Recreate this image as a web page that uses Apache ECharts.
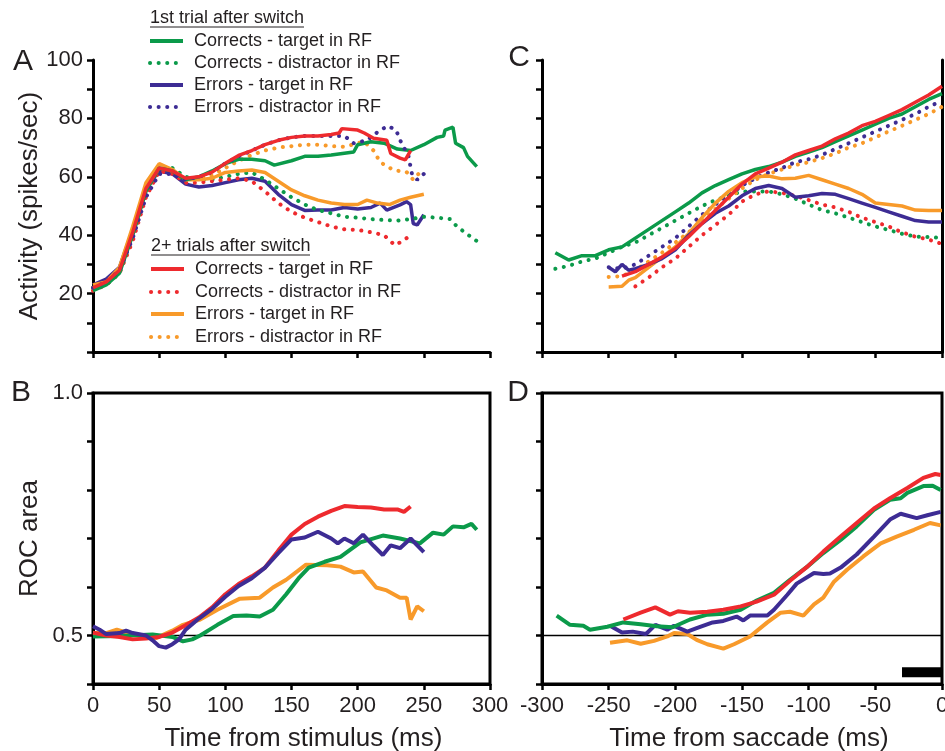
<!DOCTYPE html>
<html>
<head>
    <meta charset="utf-8">
    <title>Switch trials - activity and ROC</title>
    <script src="https://cdn.jsdelivr.net/npm/echarts@6/dist/echarts.min.js"></script>
    <style>
        html, body {
            margin: 0;
            padding: 0;
            background: #ffffff;
        }

        #main {
            width: 945px;
            height: 751px;
        }
    </style>
</head>
<body>
<div id="main"></div>
<script>
    // axis ranges / ticks
    var stimTicks = [0, 300, 50];
    var saccTicks = [-300, 0, 50];
    var rateTicks = [0, 100, 10];
    var rocTicks = [0.4, 1.0, 0.1];

    // panel A: activity aligned on stimulus ([ms, spikes/sec])
    var aCorrTarget1 = [[0, 21], [10, 23], [20, 27], [30, 40], [40, 55], [50, 63], [60, 62], [70, 59], [80, 60], [90, 62], [100, 64.5], [110, 66], [120, 66], [130, 65.5], [137, 64], [150, 65.5], [160, 67], [170, 67], [180, 67.5], [197, 68.5], [200, 71], [210, 72], [220, 71.5], [230, 69.5], [240, 69], [250, 71], [260, 73.5], [265, 74], [266, 76], [272, 77], [274, 71.5], [280, 70], [283, 67], [290, 63.5]];
    var aCorrDist1 = [[0, 22], [10, 23], [20, 27], [30, 40], [40, 54], [50, 62], [60, 63], [70, 60], [80, 59], [90, 59], [100, 60], [110, 61], [120, 61.5], [130, 59], [140, 56], [150, 53], [160, 50.5], [170, 48.6], [180, 47.5], [190, 46.3], [200, 46], [210, 45.5], [220, 45.2], [230, 45], [240, 45.5], [250, 46.3], [260, 46], [270, 45.5], [275, 43], [282, 40.6], [290, 38]];
    var aErrTarget1 = [[0, 23], [10, 25], [20, 29], [30, 42], [40, 56], [50, 62], [60, 61], [70, 57.5], [80, 56.5], [90, 57], [100, 58], [110, 59], [120, 59.5], [130, 58.5], [140, 54], [150, 50.5], [160, 48.5], [170, 48.6], [180, 48.6], [190, 49.5], [200, 49], [210, 49.5], [217, 51], [222, 48.6], [232, 50.4], [237, 51.5], [240, 50.5], [242, 44], [245, 43.5], [250, 47]];
    var aErrDist1 = [[0, 22], [10, 24], [20, 28], [30, 39], [40, 53], [50, 61], [60, 61], [70, 59], [80, 60], [90, 61.6], [100, 64.6], [110, 67], [120, 69], [130, 71], [140, 72.5], [150, 73.5], [160, 74], [170, 74], [180, 74], [190, 74], [197, 71.5], [207, 72.5], [217, 76], [223, 77.4], [229, 76], [234, 70.5], [238, 68], [241, 61], [245, 59], [250, 61]];
    var aCorrTarget2 = [[0, 22], [10, 24], [20, 28], [30, 41], [40, 56], [50, 63], [60, 62], [70, 59.5], [80, 60], [90, 61.6], [100, 64.6], [110, 67.3], [120, 69], [130, 71], [140, 72.5], [150, 73.5], [160, 74], [170, 74], [180, 74.5], [186, 75], [188, 76.5], [200, 76], [205, 75], [212, 73.2], [222, 72.5], [225, 68], [232, 66.4], [236, 65.8], [240, 69]];
    var aCorrDist2 = [[0, 21], [10, 23], [20, 27], [30, 38], [40, 53], [50, 62], [60, 61], [70, 58], [80, 58], [90, 58.5], [100, 59], [110, 59.5], [120, 58.5], [130, 55], [140, 51], [150, 48], [160, 46], [170, 44.5], [180, 43], [190, 42], [200, 41.8], [210, 41], [220, 40], [228, 36.6], [234, 38], [240, 40]];
    var aErrTarget2 = [[0, 23], [10, 24], [20, 29], [30, 43], [40, 58], [50, 64.5], [60, 62.5], [70, 59], [80, 59], [90, 59.5], [100, 61.5], [110, 62], [120, 62.3], [130, 61.5], [140, 58.5], [150, 55.5], [160, 53.5], [170, 52], [180, 51], [190, 50.5], [200, 50.5], [207, 52], [215, 51], [224, 50.5], [232, 52], [240, 53], [250, 54]];
    var aErrDist2 = [[0, 22], [10, 24], [20, 28], [30, 40], [40, 55], [50, 63], [60, 62], [70, 59], [80, 59.5], [90, 60.5], [100, 63], [110, 65.5], [120, 67.5], [130, 69], [140, 70], [150, 70.5], [160, 71], [170, 71], [180, 70.5], [190, 70.3], [200, 71.5], [205, 72], [212, 69], [217, 65], [227, 62.3], [237, 61.6], [242, 59], [250, 63]];

    // panel C: activity aligned on saccade
    var cCorrTarget1 = [[-290, 34], [-280, 31.5], [-270, 33], [-260, 33], [-250, 35], [-240, 36], [-230, 39], [-220, 42], [-210, 45], [-200, 48], [-190, 51], [-180, 54.5], [-170, 57], [-160, 59], [-150, 61], [-140, 62.5], [-130, 63.5], [-120, 65], [-110, 67], [-100, 68.5], [-90, 70], [-80, 72], [-70, 74], [-60, 76], [-50, 78], [-40, 80], [-30, 81.5], [-20, 84], [-10, 86.5], [0, 88.5]];
    var cCorrDist1 = [[-290, 28.5], [-280, 29.5], [-270, 31], [-260, 32], [-250, 34], [-240, 36], [-230, 37.5], [-220, 40], [-210, 42.5], [-200, 45], [-190, 47.5], [-180, 50], [-170, 52], [-160, 53.5], [-150, 55], [-140, 55], [-130, 55], [-120, 54], [-110, 52.5], [-100, 50.5], [-90, 48.6], [-80, 47.5], [-70, 46], [-60, 44.5], [-50, 43], [-40, 41.8], [-30, 40.5], [-20, 39.5], [-10, 39.4], [0, 39]];
    var cErrTarget1 = [[-250, 29], [-245, 27.5], [-240, 30], [-235, 28], [-230, 28.5], [-220, 30], [-210, 32], [-200, 35], [-190, 40], [-180, 44], [-170, 47.5], [-160, 50], [-150, 53.5], [-140, 56], [-130, 57], [-120, 56], [-110, 53], [-100, 53.5], [-90, 54.3], [-80, 54], [-70, 52.5], [-60, 51], [-50, 49.5], [-40, 48], [-30, 46.5], [-20, 45], [-10, 44.5], [0, 44.5]];
    var cErrDist1 = [[-250, 29], [-240, 28.5], [-230, 30], [-220, 33], [-210, 36], [-200, 39], [-190, 43], [-180, 47], [-170, 50.5], [-160, 53.5], [-150, 57], [-140, 59.5], [-130, 61.5], [-120, 63], [-110, 65], [-100, 66], [-90, 67.5], [-80, 69.5], [-70, 71.5], [-60, 73.5], [-50, 75.5], [-40, 77.5], [-30, 79.5], [-20, 81.5], [-10, 84], [0, 86]];
    var cCorrTarget2 = [[-240, 26], [-230, 27.5], [-220, 30], [-210, 32.5], [-200, 35.5], [-190, 39.5], [-180, 44], [-170, 48.5], [-160, 53], [-150, 57.5], [-140, 61], [-130, 63], [-120, 65], [-110, 67.5], [-100, 69], [-90, 70.5], [-80, 73], [-70, 75], [-60, 77.5], [-50, 79], [-40, 81], [-30, 83], [-20, 85.5], [-10, 88], [0, 91]];
    var cCorrDist2 = [[-230, 22.5], [-220, 25.5], [-210, 29], [-200, 32], [-190, 36], [-180, 40], [-170, 43.5], [-160, 47], [-150, 51.5], [-140, 54], [-130, 55], [-120, 54.5], [-110, 53.5], [-100, 52], [-90, 50.5], [-80, 49.5], [-70, 48], [-60, 46], [-50, 44.5], [-40, 43], [-30, 41], [-20, 39.5], [-10, 38.5], [0, 37]];
    var cErrTarget2 = [[-250, 22.3], [-240, 22.5], [-235, 24.6], [-230, 25.5], [-220, 29], [-210, 32.5], [-200, 36], [-190, 40.5], [-180, 46], [-170, 51], [-160, 55], [-150, 58], [-140, 60], [-130, 60.3], [-120, 59.3], [-110, 59.5], [-100, 60.5], [-90, 59], [-80, 57.5], [-70, 56], [-60, 54], [-50, 51], [-40, 50.5], [-30, 50], [-20, 48.6], [-10, 48.5], [0, 48.5]];
    var cErrDist2 = [[-250, 25.7], [-240, 26], [-230, 28], [-220, 31], [-210, 34], [-200, 37.5], [-190, 41], [-180, 45], [-170, 49], [-160, 52.5], [-150, 56], [-140, 59], [-130, 61], [-120, 62.5], [-110, 64], [-100, 65], [-90, 66.4], [-80, 68], [-70, 70], [-60, 71.5], [-50, 73.5], [-40, 75.5], [-30, 77.5], [-20, 79.5], [-10, 81.5], [0, 84]];

    // panel B: ROC area aligned on stimulus
    var bCorr1 = [[0, 0.498], [20, 0.499], [45, 0.502], [60, 0.497], [68, 0.488], [75, 0.492], [81, 0.5], [94, 0.522], [106, 0.54], [116, 0.541], [126, 0.539], [136, 0.553], [146, 0.585], [156, 0.62], [163, 0.64], [175, 0.652], [187, 0.662], [202, 0.692], [219, 0.706], [232, 0.7], [247, 0.69], [257, 0.712], [265, 0.708], [272, 0.725], [280, 0.723], [286, 0.73], [290, 0.718]];
    var bErr1 = [[0, 0.519], [5, 0.512], [10, 0.503], [20, 0.505], [25, 0.51], [30, 0.505], [40, 0.5], [45, 0.49], [50, 0.478], [55, 0.475], [60, 0.482], [65, 0.492], [70, 0.512], [80, 0.535], [90, 0.555], [100, 0.58], [110, 0.602], [120, 0.618], [130, 0.64], [140, 0.67], [150, 0.698], [160, 0.702], [170, 0.714], [180, 0.7], [185, 0.69], [190, 0.7], [197, 0.69], [204, 0.708], [212, 0.685], [219, 0.666], [225, 0.686], [232, 0.68], [240, 0.7], [250, 0.672]];
    var bCorr2 = [[0, 0.506], [10, 0.5], [20, 0.497], [30, 0.492], [40, 0.494], [50, 0.497], [60, 0.506], [70, 0.521], [80, 0.537], [90, 0.558], [100, 0.585], [110, 0.606], [120, 0.622], [130, 0.64], [140, 0.675], [150, 0.708], [160, 0.73], [170, 0.745], [180, 0.757], [190, 0.767], [200, 0.765], [210, 0.764], [220, 0.76], [230, 0.76], [235, 0.755], [240, 0.766]];
    var bErr2 = [[0, 0.505], [10, 0.505], [18, 0.512], [30, 0.502], [48, 0.495], [60, 0.51], [68, 0.522], [81, 0.533], [94, 0.553], [111, 0.576], [126, 0.578], [136, 0.599], [146, 0.615], [161, 0.646], [177, 0.645], [187, 0.642], [197, 0.63], [204, 0.632], [214, 0.599], [222, 0.593], [232, 0.578], [237, 0.578], [240, 0.533], [245, 0.56], [250, 0.55]];

    // panel D: ROC area aligned on saccade
    var dCorr1 = [[-289, 0.541], [-279, 0.522], [-269, 0.52], [-264, 0.512], [-251, 0.518], [-239, 0.527], [-226, 0.523], [-214, 0.519], [-202, 0.517], [-189, 0.533], [-176, 0.543], [-164, 0.545], [-151, 0.553], [-139, 0.572], [-126, 0.588], [-114, 0.615], [-101, 0.642], [-89, 0.67], [-76, 0.697], [-64, 0.725], [-51, 0.759], [-39, 0.78], [-31, 0.783], [-26, 0.794], [-14, 0.808], [-7, 0.809], [-1, 0.8]];
    var dErr1 = [[-249, 0.52], [-240, 0.506], [-232, 0.508], [-222, 0.503], [-215, 0.522], [-206, 0.512], [-201, 0.52], [-191, 0.508], [-184, 0.515], [-172, 0.527], [-164, 0.53], [-154, 0.539], [-149, 0.531], [-144, 0.541], [-131, 0.541], [-126, 0.553], [-116, 0.584], [-109, 0.607], [-96, 0.629], [-89, 0.627], [-84, 0.628], [-76, 0.64], [-64, 0.667], [-51, 0.704], [-39, 0.739], [-31, 0.751], [-19, 0.742], [-11, 0.748], [-1, 0.755]];
    var dCorr2 = [[-239, 0.533], [-226, 0.547], [-215, 0.558], [-204, 0.543], [-198, 0.55], [-189, 0.547], [-176, 0.549], [-164, 0.553], [-151, 0.56], [-139, 0.57], [-126, 0.584], [-114, 0.613], [-101, 0.642], [-89, 0.673], [-76, 0.704], [-64, 0.732], [-51, 0.762], [-39, 0.783], [-26, 0.804], [-14, 0.825], [-5, 0.833], [-1, 0.831]];
    var dErr2 = [[-249, 0.485], [-236, 0.49], [-226, 0.483], [-216, 0.489], [-206, 0.498], [-201, 0.505], [-191, 0.503], [-184, 0.491], [-176, 0.482], [-164, 0.473], [-156, 0.482], [-144, 0.498], [-131, 0.527], [-121, 0.547], [-114, 0.549], [-104, 0.541], [-96, 0.564], [-89, 0.578], [-81, 0.611], [-71, 0.636], [-59, 0.663], [-46, 0.69], [-34, 0.704], [-21, 0.718], [-9, 0.732], [-1, 0.727]];

    var chance = 0.5;
    var barD = [[-30, 0.424], [0, 0.424]];

    var legendTitles = ['1st trial after switch', '2+ trials after switch'];
    var legendNames = ['Corrects - target in RF', 'Corrects - distractor in RF', 'Errors - target in RF', 'Errors - distractor in RF'];

    var GREEN = '#0b9a4a', BLUE = '#3d2c94', RED = '#ee2a2e', ORANGE = '#f89a2a';
    var INK = '#231f20';
    var FONT = '"Liberation Sans", Arial, sans-serif';
    var DOTS = [0.1, 8.5];

    var chart = echarts.init(document.getElementById('main'));

    function line(data, color, dotted, xi, yi, w) {
        return {
            type: 'line',
            data: data,
            xAxisIndex: xi,
            yAxisIndex: yi,
            showSymbol: false,
            silent: true,
            animation: false,
            lineStyle: {
                color: color,
                width: dotted ? 4 : (w || 3.5),
                type: dotted ? DOTS : 'solid',
                cap: dotted ? 'round' : 'butt'
            },
            z: 3
        };
    }

    function xAx(grid, r, labels, name, pad) {
        return {
            type: 'value', gridIndex: grid, min: r[0], max: r[1], interval: r[2],
            splitLine: {show: false},
            axisLine: {onZero: false, lineStyle: {color: '#000', width: 3}},
            axisTick: {length: 6, lineStyle: {color: '#000', width: 2.5}},
            axisLabel: {show: labels, color: INK, fontSize: 22, fontFamily: FONT, margin: 11},
            name: name || '', nameLocation: 'middle', nameGap: 42,
            nameTextStyle: {color: INK, fontSize: 26, fontFamily: FONT, padding: [0, 0, 0, pad || 0]}
        };
    }

    function yAx(grid, r, fmt, name) {
        return {
            type: 'value', gridIndex: grid, min: r[0], max: r[1], interval: r[2],
            splitLine: {show: false},
            axisLine: {onZero: false, lineStyle: {color: '#000', width: 3}},
            axisTick: {length: 6, lineStyle: {color: '#000', width: 2.5}},
            axisLabel: {show: !!fmt, formatter: fmt, color: INK, fontSize: 22, fontFamily: FONT, margin: 10},
            name: name || '', nameLocation: 'middle', nameGap: 50,
            nameTextStyle: {color: INK, fontSize: 26, fontFamily: FONT}
        };
    }

    var rateFmt = function (v) {
        return (v > 0 && v % 20 === 0) ? String(v) : '';
    };
    var rocFmt = function (v) {
        if (Math.abs(v - 1) < 1e-6) return '1.0';
        if (Math.abs(v - 0.5) < 1e-6) return '0.5';
        return '';
    };

    // legend drawn by hand (two grouped blocks)
    var graphics = [];

    function legendBlock(title, x, yTitle, ulen, ys, colors) {
        graphics.push({
            type: 'text', x: x, y: yTitle,
            style: {text: title, font: '18px ' + FONT, fill: INK, verticalAlign: 'middle'}
        });
        graphics.push({
            type: 'line', shape: {x1: x, y1: yTitle + 9, x2: x + ulen, y2: yTitle + 9},
            style: {stroke: INK, lineWidth: 1}
        });
        for (var i = 0; i < 4; i++) {
            var dotted = i % 2 === 1;
            graphics.push({
                type: 'line', shape: {x1: x, y1: ys[i], x2: x + 33, y2: ys[i]},
                style: {stroke: colors[i], lineWidth: 4, lineDash: dotted ? DOTS : null, lineCap: dotted ? 'round' : 'butt'}
            });
            graphics.push({
                type: 'text', x: x + 44, y: ys[i],
                style: {text: legendNames[i], font: '18px ' + FONT, fill: INK, verticalAlign: 'middle'}
            });
        }
    }

    legendBlock(legendTitles[0], 150, 18, 154, [41, 63, 85, 107], [GREEN, GREEN, BLUE, BLUE]);
    legendBlock(legendTitles[1], 151, 246, 159, [269, 292, 314, 337], [RED, RED, ORANGE, ORANGE]);

    [['A', 23, 62], ['B', 21, 393], ['C', 519, 58], ['D', 518, 393]].forEach(function (p) {
        graphics.push({
            type: 'text', x: p[1], y: p[2],
            style: {text: p[0], font: '30px ' + FONT, fill: INK, align: 'center', verticalAlign: 'middle'}
        });
    });

    var option = {
        backgroundColor: '#ffffff',
        animation: false,
        grid: [
            {left: 93, top: 60, width: 397, height: 292, outerBoundsMode: 'none'},
            {left: 542, top: 60, width: 400, height: 292, outerBoundsMode: 'none'},
            {left: 93, top: 393, width: 397, height: 291, outerBoundsMode: 'none', show: true, borderColor: '#000', borderWidth: 3},
            {left: 542, top: 393, width: 400, height: 291, outerBoundsMode: 'none', show: true, borderColor: '#000', borderWidth: 3}
        ],
        xAxis: [
            xAx(0, stimTicks, false),
            xAx(1, saccTicks, false),
            xAx(2, stimTicks, true, 'Time from stimulus (ms)', 24),
            xAx(3, saccTicks, true, 'Time from saccade (ms)', 14)
        ],
        yAxis: [
            yAx(0, rateTicks, rateFmt, 'Activity (spikes/sec)'),
            yAx(1, rateTicks, null),
            yAx(2, rocTicks, rocFmt, 'ROC area'),
            yAx(3, rocTicks, null),
            {
                type: 'value', gridIndex: 1, position: 'right', min: 0, max: 100,
                splitLine: {show: false}, axisTick: {show: false}, axisLabel: {show: false},
                axisLine: {show: true, onZero: false, lineStyle: {color: '#000', width: 3}}
            }
        ],
        graphic: graphics,
        series: [
            line(aErrTarget1, BLUE, false, 0, 0),
            line(aCorrDist1, GREEN, true, 0, 0),
            line(aCorrDist2, RED, true, 0, 0),
            line(aErrTarget2, ORANGE, false, 0, 0),
            line(aErrDist2, ORANGE, true, 0, 0),
            line(aCorrTarget1, GREEN, false, 0, 0),
            line(aErrDist1, BLUE, true, 0, 0),
            line(aCorrTarget2, RED, false, 0, 0),

            line(cCorrDist1, GREEN, true, 1, 1),
            line(cCorrDist2, RED, true, 1, 1),
            line(cErrDist2, ORANGE, true, 1, 1),
            line(cErrDist1, BLUE, true, 1, 1),
            line(cErrTarget2, ORANGE, false, 1, 1),
            line(cErrTarget1, BLUE, false, 1, 1),
            line(cCorrTarget1, GREEN, false, 1, 1),
            line(cCorrTarget2, RED, false, 1, 1),

            line([[0, chance], [300, chance]], '#000', false, 2, 2, 1.5),
            line(bErr2, ORANGE, false, 2, 2, 4),
            line(bCorr1, GREEN, false, 2, 2, 4),
            line(bCorr2, RED, false, 2, 2, 4),
            line(bErr1, BLUE, false, 2, 2, 4),

            line([[-300, chance], [0, chance]], '#000', false, 3, 3, 1.5),
            line(dErr2, ORANGE, false, 3, 3, 4),
            line(dErr1, BLUE, false, 3, 3, 4),
            line(dCorr1, GREEN, false, 3, 3, 4),
            line(dCorr2, RED, false, 3, 3, 4),
            line(barD, '#000', false, 3, 3, 10)
        ]
    };

    chart.setOption(option);

    window.onresize = function () {
        chart.resize();
    };
</script>
</body>
</html>
